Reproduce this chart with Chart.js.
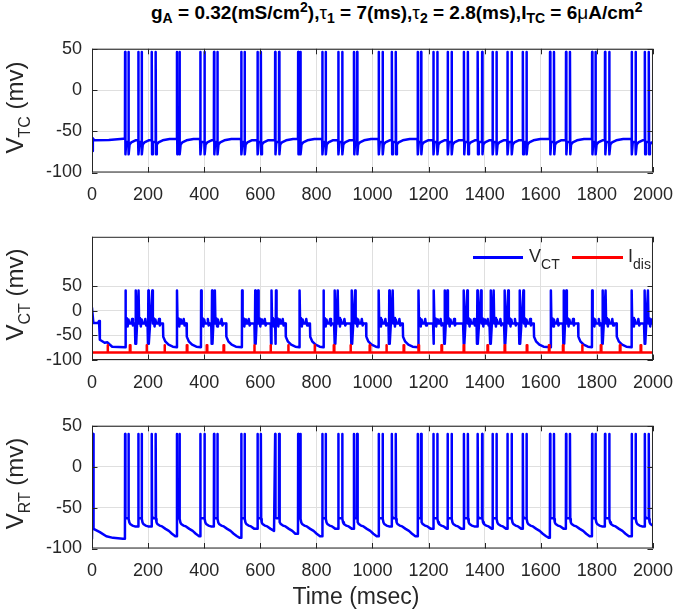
<!DOCTYPE html>
<html><head><meta charset="utf-8">
<script src="https://cdn.jsdelivr.net/npm/chart.js@4.4.0/dist/chart.umd.min.js"></script>
<style>
html,body{margin:0;padding:0;background:#fff;}
#wrap{position:relative;width:685px;height:615px;overflow:hidden;font-family:"Liberation Sans",Arial,Helvetica,sans-serif;color:#262626;}
canvas{position:absolute;left:0;}
.lbl{position:absolute;white-space:nowrap;}
.s1{font-size:14px;position:relative;top:4px;}
.p1{font-size:14px;position:relative;top:-7px;}
.gr{font-weight:normal;}
.yl{position:absolute;width:200px;text-align:center;font-size:24px;line-height:24px;transform:rotate(-90deg);white-space:nowrap;}
.ys{font-size:16px;position:relative;top:7px;}
.ls{font-size:14px;position:relative;top:7px;}
.lg{position:absolute;height:2.5px;}
</style></head>
<body><div id="wrap">
<canvas id="c1" width="685" height="185" style="top:28px;width:685px;height:185px"></canvas>
<canvas id="c2" width="685" height="185" style="top:216px;width:685px;height:185px"></canvas>
<canvas id="c3" width="685" height="185" style="top:405px;width:685px;height:185px"></canvas>

<div class="lbl" style="left:151px;top:0px;font-weight:bold;font-size:19px;line-height:26px;color:#000">g<span class="s1">A</span> = 0.32(mS/cm<span class="p1">2</span>),<span class="gr">τ</span><span class="s1">1</span> = 7(ms),<span class="gr">τ</span><span class="s1">2</span> = 2.8(ms),I<span class="s1">TC</span> = 6<span class="gr">μ</span>A/cm<span class="p1">2</span></div>

<div class="yl" style="left:-84px;top:93.5px">V<span class="ys">TC</span> (mv)</div>
<div class="yl" style="left:-84px;top:281px">V<span class="ys">CT</span> (mv)</div>
<div class="yl" style="left:-84px;top:469.5px">V<span class="ys">RT</span> (mv)</div>

<div class="lbl" style="left:256px;width:200px;text-align:center;top:585px;font-size:23px;line-height:23px">Time (msec)</div>

<div class="lg" style="left:473px;top:256px;width:50px;background:#0000ff"></div>
<div class="lbl" style="left:529px;top:247px;font-size:18px;line-height:18px">V<span class="ls">CT</span></div>
<div class="lg" style="left:572px;top:256px;width:51px;background:#ff0000"></div>
<div class="lbl" style="left:628px;top:247px;font-size:18px;line-height:18px">I<span class="ls">dis</span></div>
</div>
<script>
// ---------- data ----------
const xTickValues = [0,200,400,600,800,1000,1200,1400,1600,1800,2000];
const yTickValues = [-100,-50,0,50];

// TC: doublet spike times (ms)
const tcT1 = [118,165,213,303,386,435,532,590,653,735,821,878,934,1022,1069,1161,1217,1268,1326,1375,1428,1481,1536,1633,1690,1783,1829,1924,1971];
const tcT2 = [130,177,227,312,401,447,544,602,667,743,833,892,945,1036,1083,1173,1231,1282,1340,1391,1442,1496,1549,1647,1704,1795,1844,1938,1985];
const tcStart = [[0,-74],[3,-58.5],[8,-61],[60,-60.5],[112,-59]];
const tcLevels = [46,-78,-63,-78];           // peak, trough after 1st, between, trough after 2nd
const tcRecovery = [[4,-66],[10,-63.5],[25,-61],[50,-59.5]];

// RT: doublet spike times (ms)
const rtT1 = [118,165,213,303,386,435,532,590,653,735,821,878,934,1022,1069,1161,1217,1268,1326,1375,1428,1481,1536,1633,1690,1783,1829,1924,1971];
const rtT2 = [130,177,227,312,401,447,544,602,667,743,833,892,945,1036,1083,1173,1231,1282,1340,1391,1442,1496,1549,1647,1704,1795,1844,1938,1985];
const rtStart = [[0,-88],[3.5,-88],[4,40],[5.5,-76],[9,-76.5],[28,-80],[51,-85],[75,-87],[110,-88]];
const rtLevels = [40,-62,-63,-64];
const rtRecovery = [[3,-68],[6,-70],[14,-72],[23,-73],[35,-76],[47,-78.5],[58,-82],[70,-85],[80,-87],[100,-88]];

// CT: tall spike times, plateau end times, levels
const ctSpikes = [119,156,166,201,215,303,389,428,438,535,582,592,640,656,740,825,866,876,926,938,1022,1060,1072,1164,1219,1257,1267,1326,1338,1374,1387,1421,1432,1472,1484,1525,1538,1636,1682,1691,1783,1820,1831,1924,1971,1982];
const ctPlateauEnd = [253,337,478,690,777,977,1108,1575,1733,1870];
const ctStart = [[0,6],[3,6],[5,-25],[21,-25],[25,-21],[28,-59],[45,-65],[55,-64],[62,-68],[72,-73],[118,-74]];
const ctLevels = {peak:41, plateau:-26, dip:-67, rest:-74};
const ctWiggle = [[2,-26],[5,-15],[8,-32],[11,-18],[14,-26],[21,-26],[24,-17],[27,-30],[30,-26]];
const ctDecay = [[1,-53],[8,-62],[20,-69],[35,-73],[60,-74]];

// I_dis pulses (ms)
const idisPulses = [56,136,195,259,339,410,470,579,637,700,794,863,922,991,1050,1112,1165,1247,1326,1411,1472,1551,1630,1680,1748,1815,1883,1957];
const idisLevels = [-85,-70];

// ---------- build traces ----------
function buildDoublets(start, t1s, t2s, lv, recovery){
  const pts = start.map(([x,y])=>({x,y}));
  let last = start[start.length-1][1];
  for (let i=0;i<t1s.length;i++){
    const t1=t1s[i], t2=t2s[i], next = i+1<t1s.length ? t1s[i+1] : Infinity;
    pts.push({x:t1-0.6,y:last},{x:t1,y:lv[0]},{x:t1+1.2,y:lv[1]},{x:t1+4,y:lv[2]},
             {x:t2-0.6,y:lv[2]},{x:t2,y:lv[0]},{x:t2+1.2,y:lv[3]});
    last = lv[3];
    for (const [dt,v] of recovery){ const t=t2+dt; if (t<next-1 && t<=2000){ pts.push({x:t,y:v}); last=v; } }
  }
  if (pts[pts.length-1].x<2000) pts.push({x:2000,y:last});
  return pts;
}
function buildCT(){
  const L = ctLevels;
  const pts = ctStart.map(([x,y])=>({x,y}));
  let state='rest', e=0;
  for (let i=0;i<ctSpikes.length;i++){
    const ts=ctSpikes[i];
    while (e<ctPlateauEnd.length && ctPlateauEnd[e]<ts){
      const te=ctPlateauEnd[e];
      if (state==='plateau'){
        pts.push({x:te,y:L.plateau});
        for (const [dt,v] of ctDecay){ if (te+dt<ts-1) pts.push({x:te+dt,y:v}); }
        pts.push({x:ts-0.6,y:L.rest});
      }
      state='rest'; e++;
    }
    if (state==='plateau'){
      const gap = ts-ctSpikes[i-1];
      if (gap>=16){ pts.push({x:ts-3,y:L.plateau},{x:ts-1.5,y:L.dip}); }
    }
    pts.push({x:ts,y:L.peak});
    const tn = i+1<ctSpikes.length ? ctSpikes[i+1] : 2000;
    const endNext = e<ctPlateauEnd.length ? ctPlateauEnd[e] : 2000;
    if (tn-ts<16 && tn<endNext){ pts.push({x:ts+1.5,y:L.dip}); }
    else {
      const lim=Math.min(tn-3,endNext);
      for (const [dt,v] of ctWiggle){ if (ts+dt<lim) pts.push({x:ts+dt,y:v}); }
    }
    state='plateau';
  }
  pts.push({x:2000,y:L.plateau});
  return pts;
}
function buildIdis(){
  const pts=[{x:0,y:idisLevels[0]}];
  for (const p of idisPulses){
    pts.push({x:p-1,y:idisLevels[0]},{x:p-1,y:idisLevels[1]},{x:p+1,y:idisLevels[1]},{x:p+1,y:idisLevels[0]});
  }
  pts.push({x:2000,y:idisLevels[0]});
  return pts;
}

// ---------- charts ----------
const FAM='"Liberation Sans", Arial, Helvetica, sans-serif';
Chart.defaults.font.family = FAM;
const AX='#262626';
const boxPlugin = {
  id:'box',
  afterDatasetsDraw(chart){
    const {ctx, chartArea:a, scales:{x,y}} = chart;
    ctx.save();
    ctx.strokeStyle=AX; ctx.lineWidth=1;
    ctx.strokeRect(a.left+0.5, a.top+0.5, a.right-a.left-1, a.bottom-a.top-1);
    const tl=5.5;
    ctx.beginPath();
    for (const v of xTickValues){
      const px=Math.round(x.getPixelForValue(v))+0.5;
      ctx.moveTo(px,a.bottom); ctx.lineTo(px,a.bottom-tl);
      ctx.moveTo(px,a.top); ctx.lineTo(px,a.top+tl);
    }
    for (const v of yTickValues){
      const py=Math.round(y.getPixelForValue(v))+0.5;
      ctx.moveTo(a.left,py); ctx.lineTo(a.left+tl,py);
      ctx.moveTo(a.right,py); ctx.lineTo(a.right-tl,py);
    }
    ctx.stroke();
    ctx.restore();
  }
};
function makeChart(id, datasets, yMin, yMax, padTop, padBottom){
  return new Chart(document.getElementById(id), {
    type:'line',
    data:{datasets},
    options:{
      responsive:false, animation:false, events:[],
      layout:{padding:{left:0,right:23.5,top:padTop,bottom:padBottom}},
      plugins:{legend:{display:false},tooltip:{enabled:false}},
      elements:{point:{radius:0},line:{tension:0,borderJoinStyle:'round',borderCapStyle:'round'}},
      scales:{
        x:{type:'linear',min:0,max:2000,
           afterBuildTicks:s=>{s.ticks=xTickValues.map(v=>({value:v}));},
           afterFit:s=>{s.height=30;},
           ticks:{autoSkip:false,maxRotation:0,minRotation:0,padding:12,color:AX,font:{size:18,family:FAM},callback:v=>String(v)},
           grid:{color:'#dfdfdf',lineWidth:1,drawTicks:false},border:{display:false}},
        y:{type:'linear',min:yMin,max:yMax,
           afterBuildTicks:s=>{s.ticks=yTickValues.map(v=>({value:v}));},
           afterFit:s=>{s.width=92;},
           ticks:{padding:10,color:AX,font:{size:18,family:FAM},callback:v=>String(v)},
           grid:{color:'#dfdfdf',lineWidth:1,drawTicks:false},border:{display:false}}
      }
    },
    plugins:[boxPlugin]
  });
}
makeChart('c1',[{label:'V_TC',data:buildDoublets(tcStart,tcT1,tcT2,tcLevels,tcRecovery),borderColor:'#0000ff',borderWidth:2.5,fill:false}],-100,50,10.5,10.5);
makeChart('c2',[
  {label:'V_CT',data:buildCT(),borderColor:'#0000ff',borderWidth:2.5,fill:false,order:1},
  {label:'I_dis',data:buildIdis(),borderColor:'#ff0000',borderWidth:2.5,fill:false,order:0}
],-100,150,10.5,11);
makeChart('c3',[{label:'V_RT',data:buildDoublets(rtStart,rtT1,rtT2,rtLevels,rtRecovery),borderColor:'#0000ff',borderWidth:2.5,fill:false}],-100,50,10,11.5);
</script>
</body></html>
